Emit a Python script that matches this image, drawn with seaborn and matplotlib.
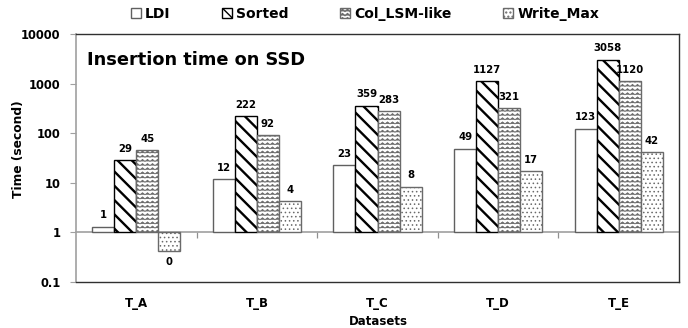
import warnings
warnings.filterwarnings("ignore")
import numpy as np
import pandas as pd
import matplotlib
matplotlib.use("Agg")
import matplotlib.pyplot as plt
import matplotlib.hatch as mhatch
from matplotlib.path import Path
import seaborn as sns

# ---------------- data ----------------
datasets = ["T_A", "T_B", "T_C", "T_D", "T_E"]
methods = ["LDI", "Sorted", "Col_LSM-like", "Write_Max"]
ldi = [1.3, 12, 23, 49, 123]
sorted_vals = [29, 222, 359, 1127, 3058]
col_lsm = [45, 92, 283, 321, 1120]
write_max = [0.43, 4.2, 8.4, 17, 42]
y_ticks = [0.1, 1, 10, 100, 1000, 10000]
y_tick_labels = ["0.1", "1", "10", "100", "1000", "10000"]

df = pd.DataFrame({
    "Datasets": datasets * 4,
    "Method": [m for m in methods for _ in datasets],
    "Time": ldi + sorted_vals + col_lsm + write_max,
})


# ---------------- custom hatches ----------------
class SEDiagHatch(mhatch.HatchPatternBase):
    def __init__(self, hatch, density):
        self.num_lines = int(hatch.count('k') * 7)
        self.num_vertices = (self.num_lines + 1) * 2 if self.num_lines else 0

    def set_vertices_and_codes(self, vertices, codes):
        steps = np.linspace(-0.5, 0.5, self.num_lines + 1)
        vertices[0::2, 0] = 0.0 + steps
        vertices[0::2, 1] = 1.0 + steps
        vertices[1::2, 0] = 1.0 + steps
        vertices[1::2, 1] = 0.0 + steps
        codes[0::2] = Path.MOVETO
        codes[1::2] = Path.LINETO


class ZigZagHatch(mhatch.HatchPatternBase):
    def __init__(self, hatch, density):
        self.num_lines = int(hatch.count('z') * density)
        self.teeth = 20 if self.num_lines else 0
        self.npts = 2 * self.teeth + 1
        self.num_vertices = self.num_lines * self.npts if self.num_lines else 0

    def set_vertices_and_codes(self, vertices, codes):
        n = self.num_lines
        xs = np.linspace(0, 1, self.npts)
        amp = 0.24 / n
        k = 0
        for i in range(n):
            y0 = (i + 0.5) / n
            for j, x in enumerate(xs):
                vertices[k] = (x, y0 + (amp if j % 2 else -amp))
                codes[k] = Path.LINETO if j else Path.MOVETO
                k += 1


mhatch._hatch_types.append(SEDiagHatch)
mhatch._hatch_types.append(ZigZagHatch)
mhatch._validate_hatch_pattern = lambda h: None

# ---------------- styles ----------------
sns.set_theme(style="white")
plt.rcParams["font.family"] = ["DejaVu Sans"]
plt.rcParams.update({"text.color": "black", "axes.labelcolor": "black",
                     "xtick.color": "black", "ytick.color": "black",
                     "xtick.labelcolor": "black", "ytick.labelcolor": "black"})

styles = {
    "LDI": dict(hatch=None, ec="#606060", hlw=0.8),
    "Sorted": dict(hatch="kk", ec="black", hlw=1.7),
    "Col_LSM-like": dict(hatch="zzzz", ec="#6a6a6a", hlw=0.6),
    "Write_Max": dict(hatch="....", ec="#6a6a6a", hlw=0.6),
}

fig = plt.figure(figsize=(6.88, 3.28), dpi=100)
ax = fig.add_axes([76 / 688, 1 - 282 / 328, (679 - 76) / 688, (282 - 34) / 328])
ax.set_yscale("log")

sns.barplot(data=df, x="Datasets", y="Time", hue="Method", hue_order=methods,
            order=datasets, palette=["white"] * 4, width=0.73,
            edgecolor="black", linewidth=1.0, legend=False, ax=ax, zorder=3)

# bars grow from 1 (Excel style log axis crossing)
for m, c in zip(methods, ax.containers):
    st = styles[m]
    for p in c:
        top = p.get_y() + p.get_height()
        p.set_y(1)
        p.set_height(top - 1)
        p.set_edgecolor(st["ec"])
        if st["hatch"]:
            p.set_hatch(st["hatch"])
        if hasattr(p, "set_hatch_linewidth"):
            p.set_hatch_linewidth(st["hlw"])
    c.datavalues = np.array([p.get_height() for p in c])

vals_by_method = [ldi, sorted_vals, col_lsm, write_max]
for c, vals in zip(ax.containers, vals_by_method):
    ax.bar_label(c, labels=[f"{v:.0f}" for v in vals], padding=4.5,
                 fontsize=7.3, fontweight="bold", color="black")

ax.set_ylim(0.1, 10000)
ax.set_xlim(-0.5, 4.5)
ax.set_yticks(y_ticks)
ax.yaxis.set_minor_locator(matplotlib.ticker.NullLocator())
ax.set_yticklabels(y_tick_labels, fontweight="bold", fontsize=8.3, color="black")
ax.tick_params(axis="y", which="major", left=True, direction="out", length=4.3,
               width=0.8, color="#a0a0a0", labelcolor="black", pad=7)
ax.tick_params(axis="x", bottom=False, length=0, pad=11, labelcolor="black")
for lbl in ax.get_xticklabels():
    lbl.set_fontweight("bold")
    lbl.set_fontsize(8.5)
    lbl.set_color("black")

for side in ["top", "right", "bottom"]:
    ax.spines[side].set_visible(True)
    ax.spines[side].set_color("#303030")
    ax.spines[side].set_linewidth(1.0)
ax.spines["left"].set_color("#a0a0a0")
ax.spines["left"].set_linewidth(1.2)

# category axis crossing at 1
sec = ax.secondary_xaxis(0.2)
sec.set_xticks([0.5, 1.5, 2.5, 3.5])
sec.set_xticklabels([])
sec.tick_params(axis="x", bottom=True, direction="out", length=4, width=0.9,
                color="#909090")
sec.spines["bottom"].set_color("#a0a0a0")
sec.spines["bottom"].set_linewidth(1.2)

ax.set_xlabel("Datasets", fontsize=8.5, fontweight="bold", color="black")
ax.xaxis.set_label_coords(0.5008, -0.135)
ax.set_ylabel("Time (second)", fontsize=8.8, fontweight="bold", color="black")
ax.yaxis.set_label_coords(-0.0846, 0.536)

ax.text(0.018, 0.895, "Insertion time on SSD", transform=ax.transAxes,
        fontsize=12.8, fontweight="bold", va="center", ha="left", color="black")

leg = fig.legend(ax.containers, methods, loc="center",
                 bbox_to_anchor=(365 / 688, 1 - 14 / 328),
                 ncol=4, frameon=False, prop=dict(weight="bold", size=10),
                 handlelength=0.73, handleheight=0.73, handletextpad=0.3,
                 columnspacing=3.7, borderaxespad=0, labelcolor="black")

fig.savefig("out.png", dpi=100)
